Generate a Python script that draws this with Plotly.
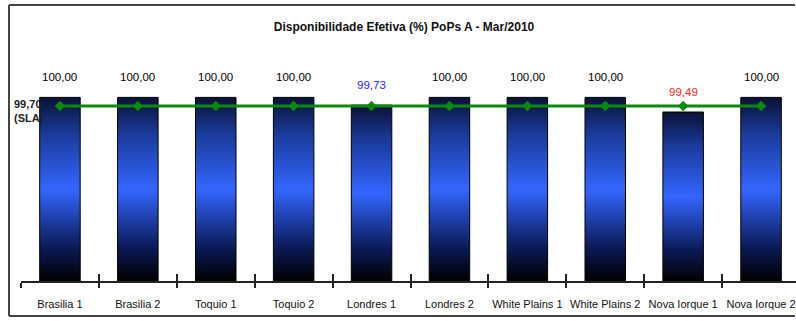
import plotly.graph_objects as go

# Availability per PoP, March 2010
categories = ["Brasilia 1", "Brasilia 2", "Toquio 1", "Toquio 2", "Londres 1",
              "Londres 2", "White Plains 1", "White Plains 2", "Nova Iorque 1", "Nova Iorque 2"]
availability = [100.00, 100.00, 100.00, 100.00, 99.73, 100.00, 100.00, 100.00, 99.49, 100.00]
sla_target = 99.70

Y_MIN, Y_MAX = 93.6, 102.0
BAR_W = 0.52
FONT = "Liberation Sans, Arial, sans-serif"

W, H = 796, 321
M_L, M_R, M_T, M_B = 21, 0, 40, 40
PX_PER_CAT = 77.9
plot_w = W - M_L - M_R
x_range = [-0.5, -0.5 + plot_w / PX_PER_CAT]
boundaries = [i - 0.5 for i in range(len(categories) + 1)]

bar_scale = [[0.0, "#000000"], [0.18, "#0b1a55"], [0.50, "#3366ff"],
             [0.80, "#1a3a9a"], [1.0, "#0a1235"]]

fig = go.Figure()

# Bars: vertical gradient fills from the axis floor up to each value
for i, (cat, v) in enumerate(zip(categories, availability)):
    x0, x1 = i - BAR_W / 2, i + BAR_W / 2
    fig.add_trace(go.Scatter(
        x=[x0, x1, x1, x0, x0], y=[Y_MIN, Y_MIN, v, v, Y_MIN],
        mode="lines", fill="toself",
        fillgradient=dict(type="vertical", colorscale=bar_scale),
        line=dict(color="#000000", width=1),
        name=cat, showlegend=False, hoverinfo="skip",
    ))

# SLA target line
fig.add_trace(go.Scatter(
    x=list(range(len(categories))), y=[sla_target] * len(categories),
    mode="lines+markers",
    line=dict(color="#0a8a0a", width=3),
    marker=dict(symbol="diamond", size=8, color="#0a8a0a"),
    showlegend=False, hoverinfo="skip",
))

# Invisible anchor so the overlay axis (upward boundary ticks) is rendered
fig.add_trace(go.Scatter(
    x=[boundaries[0]], y=[Y_MIN], xaxis="x2", mode="markers",
    marker=dict(opacity=0), showlegend=False, hoverinfo="skip",
))

# Value labels above each bar
def label_color(v):
    if v >= 100:
        return "#000000"
    if v >= sla_target:
        return "#1f1fff"
    return "#ff1a1a"

for i, v in enumerate(availability):
    fig.add_annotation(
        x=i, y=v, xref="x", yref="y", yshift=20,
        text=f"{v:.2f}".replace(".", ","), showarrow=False,
        font=dict(family=FONT, size=11.5, color=label_color(v)),
    )

# SLA caption on the left
fig.add_annotation(
    x=-(M_L - 12) / plot_w, xref="paper", xanchor="left",
    y=sla_target, yref="y", yshift=-5, yanchor="middle",
    text=f"<b>{sla_target:.2f}".replace(".", ",") + "<br>(SLA)</b>",
    showarrow=False, align="left",
    font=dict(family=FONT, size=11, color="#222222"),
)

# Outer frame: left, top and bottom edges (the right edge runs off the page)
plot_h = H - M_T - M_B
def px_x(p):
    return (p - M_L) / plot_w
def px_y(p):
    return (H - M_B - p) / plot_h

frame = dict(color="#444444", width=2)
fx0, fx1, fy_top, fy_bot = px_x(9), px_x(W - 1), px_y(5), px_y(316)
for x0, y0, x1, y1 in [(fx0, fy_bot, fx0, fy_top),
                       (fx0, fy_top, fx1, fy_top),
                       (fx0, fy_bot, fx1, fy_bot)]:
    fig.add_shape(type="line", xref="paper", yref="paper",
                  x0=x0, y0=y0, x1=x1, y1=y1, line=frame, layer="below")

fig.update_layout(
    width=W, height=H,
    margin=dict(l=M_L, r=M_R, t=M_T, b=M_B, pad=0),
    paper_bgcolor="white", plot_bgcolor="white",
    font=dict(family=FONT, size=11, color="#111111"),
    title=dict(text="<b>Disponibilidade Efetiva (%) PoPs A - Mar/2010</b>",
               x=404 / W, xanchor="center", xref="container",
               y=1 - 27 / H, yanchor="middle", yref="container",
               font=dict(family=FONT, size=12, color="#111111")),
    xaxis=dict(
        range=x_range, tickmode="array",
        tickvals=list(range(len(categories))), ticktext=categories,
        ticks="", showgrid=False, zeroline=False, ticklabelstandoff=12,
        showline=True, linecolor="#222222", linewidth=1.5,
        tickfont=dict(family=FONT, size=11, color="#111111"),
        minor=dict(tickmode="array", tickvals=boundaries,
                   ticks="outside", ticklen=5, tickwidth=1.5, tickcolor="#222222"),
    ),
    xaxis2=dict(
        range=x_range, overlaying="x", anchor="y", side="bottom",
        tickmode="array", tickvals=boundaries,
        ticks="inside", ticklen=7, tickwidth=1.5, tickcolor="#222222",
        showticklabels=False, showgrid=False, zeroline=False, showline=False,
    ),
    yaxis=dict(range=[Y_MIN, Y_MAX], visible=False, showgrid=False),
)

fig.write_html("out.html")
